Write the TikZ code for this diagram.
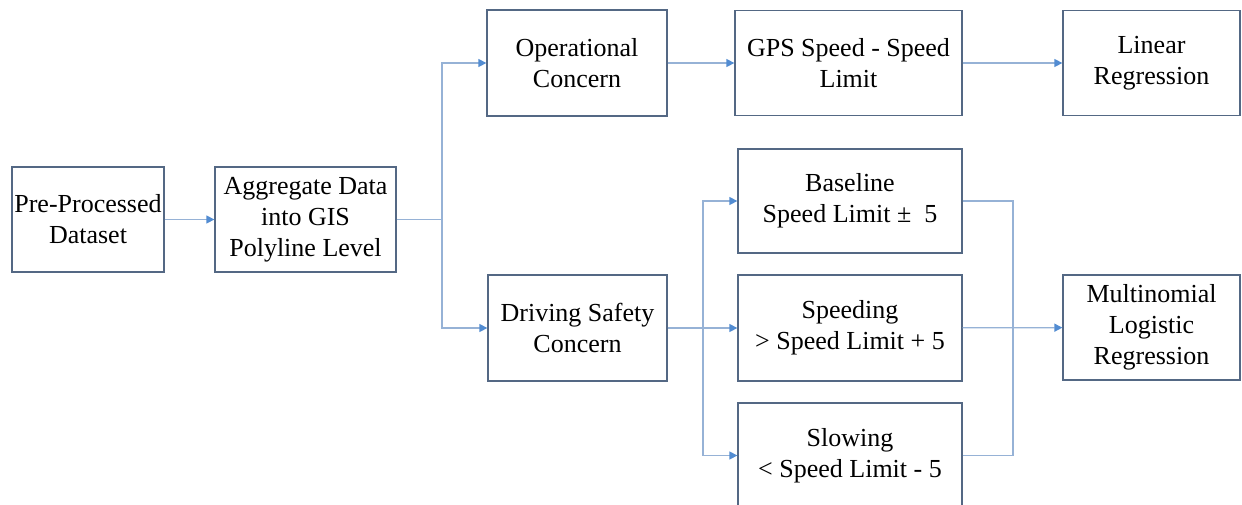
\documentclass[tikz,border=0pt]{standalone}
\usepackage{fontspec}
\setmainfont{Liberation Serif}
\usetikzlibrary{arrows.meta}
\definecolor{boxc}{RGB}{84,104,132}
\definecolor{linec}{RGB}{150,178,214}
\definecolor{tipc}{RGB}{82,140,210}
\begin{document}
\begin{tikzpicture}[x=1pt,y=-1pt,
  box/.style={draw=boxc,line width=1.3pt,fill=white,rectangle,align=center,inner sep=0pt,
    font=\fontsize{26}{31}\selectfont},
  conn/.style={draw=linec,line width=1.3pt},
  arr/.style={conn,-{Triangle[length=8pt,width=8pt,color=tipc]}}]
\useasboundingbox (0,0) rectangle (1242,504);
\clip (0,0) rectangle (1242,504);
\fill[white] (0,0) rectangle (1242,504);
\node[box,minimum width=152pt,minimum height=105pt] (pre) at (88,219.5) {Pre-Processed\\Dataset};
\node[box,minimum width=181pt,minimum height=105pt] (agg) at (305.5,219.5) {Aggregate Data\\into GIS\\Polyline Level};
\node[box,minimum width=180pt,minimum height=106pt] (op) at (577,63) {Operational\\Concern};
\node[box,minimum width=227pt,minimum height=105pt] (gps) at (848.5,63) {GPS Speed - Speed\\Limit};
\node[box,minimum width=177pt,minimum height=105pt] (lin) at (1151.5,63) {Linear\\Regression};
\node[box,minimum width=179pt,minimum height=106pt] (drv) at (577.5,328) {Driving Safety\\Concern};
\node[box,minimum width=224pt,minimum height=104pt] (base) at (850,201) {Baseline\\Speed Limit ±\ \ 5};
\node[box,minimum width=224pt,minimum height=106pt] (spd) at (850,328) {Speeding\\> Speed Limit + 5};
\node[box,minimum width=224pt,minimum height=105pt] (slow) at (850,455.5) {Slowing\\< Speed Limit - 5};
\node[box,minimum width=177pt,minimum height=105pt] (mlr) at (1151.5,327.5) {Multinomial\\Logistic\\Regression};
\coordinate (b1) at (442,219.5);
\coordinate (b2) at (703,328);
\coordinate (b3) at (1013,328);
\draw[arr] (pre) -- (agg);
\draw[conn] (agg) -- (b1);
\draw[arr] (b1) |- (op);
\draw[arr] (b1) |- (drv);
\draw[arr] (op) -- (gps);
\draw[arr] (gps) -- (lin);
\draw[arr] (drv) -- (spd);
\draw[arr] (b2) |- (base);
\draw[arr] (b2) |- (slow);
\draw[conn] (base.east) -| (b3) |- (slow.east);
\draw[arr] (spd) -- (mlr);
\end{tikzpicture}
\end{document}
